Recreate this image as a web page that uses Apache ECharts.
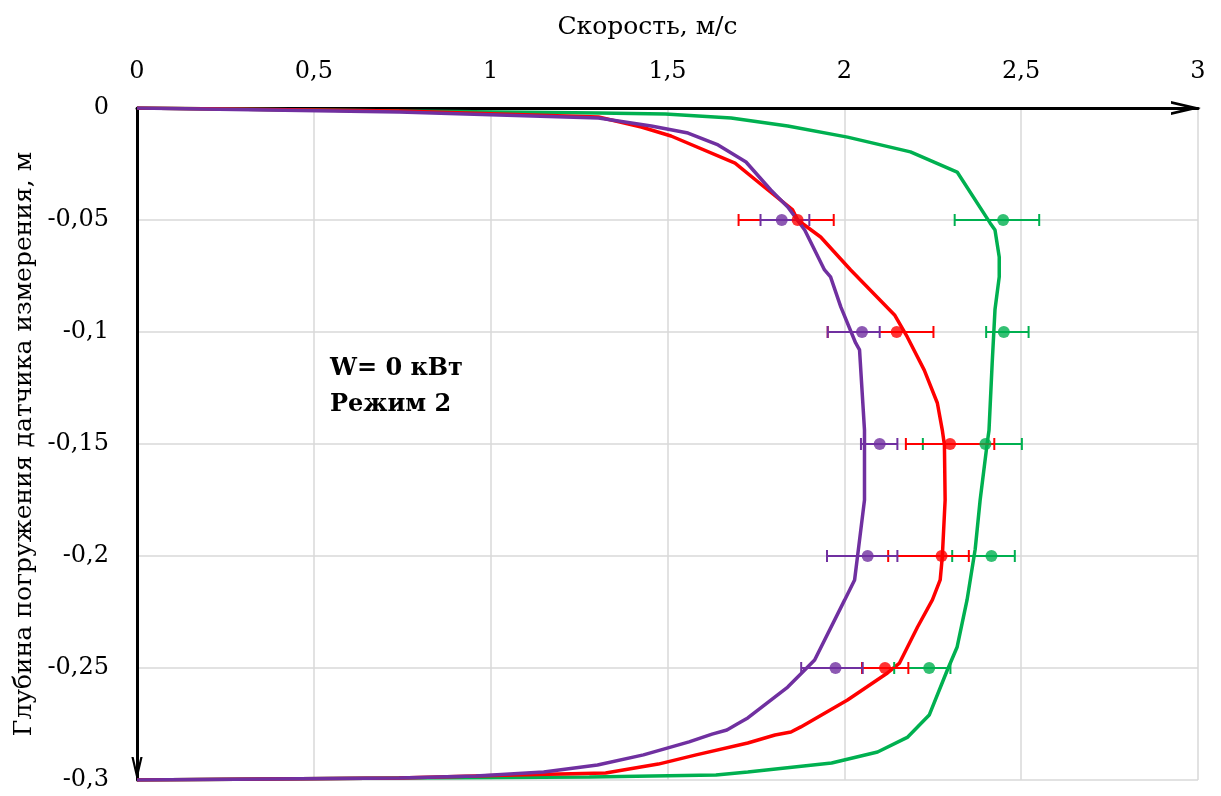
<!DOCTYPE html>
<html>
<head>
<meta charset="utf-8">
<script src="https://cdn.jsdelivr.net/npm/echarts@6/dist/echarts.min.js"></script>
<style>html,body{margin:0;padding:0;background:#fff}#c{width:1221px;height:796px}</style>
</head>
<body>
<div id="c"></div>
<script>
// ---- data ----
const xTitle = 'Скорость, м/с';
const yTitle = 'Глубина погружения датчика измерения, м';
const noteLines = ['W= 0 кВт', 'Режим 2'];

const greenV = [0, 0.741, 1.305, 1.494, 1.680, 1.840, 2.009, 2.187, 2.319, 2.412, 2.426, 2.438, 2.438, 2.426, 2.418, 2.409, 2.404, 2.384, 2.370, 2.347, 2.319, 2.291, 2.240, 2.178, 2.094, 1.964, 1.727, 1.637, 1.279, 0.741, 0];
const greenD = [0, -0.0013, -0.0022, -0.0027, -0.0045, -0.008, -0.013, -0.0196, -0.0286, -0.0513, -0.0545, -0.0665, -0.0754, -0.090, -0.114, -0.144, -0.1496, -0.175, -0.197, -0.2196, -0.2406, -0.251, -0.271, -0.281, -0.2875, -0.2924, -0.2964, -0.2978, -0.2987, -0.2991, -0.3];

const redV = [0, 0.741, 1.305, 1.426, 1.510, 1.691, 1.784, 1.854, 1.868, 1.933, 2.018, 2.142, 2.178, 2.226, 2.263, 2.277, 2.283, 2.285, 2.277, 2.271, 2.249, 2.207, 2.156, 2.122, 2.009, 1.877, 1.849, 1.804, 1.727, 1.581, 1.474, 1.325, 1.065, 0.741, 0];
const redD = [0, -0.0013, -0.004, -0.0085, -0.0125, -0.0246, -0.0366, -0.0455, -0.050, -0.0576, -0.0723, -0.0924, -0.1022, -0.117, -0.1317, -0.1438, -0.1504, -0.175, -0.2004, -0.2107, -0.2196, -0.2317, -0.2478, -0.2522, -0.2643, -0.2763, -0.2786, -0.2799, -0.2835, -0.2888, -0.2929, -0.2969, -0.2978, -0.2991, -0.3];

const purpleV = [0, 0.741, 1.305, 1.454, 1.558, 1.643, 1.722, 1.792, 1.840, 1.888, 1.944, 1.961, 1.990, 2.032, 2.043, 2.057, 2.057, 2.043, 2.029, 2.001, 1.916, 1.888, 1.840, 1.727, 1.702, 1.668, 1.626, 1.561, 1.432, 1.302, 1.150, 0.958, 0.741, 0];
const purpleD = [0, -0.0018, -0.0045, -0.008, -0.0112, -0.0165, -0.0241, -0.0366, -0.0442, -0.0545, -0.0723, -0.0754, -0.0888, -0.1049, -0.108, -0.1438, -0.175, -0.1929, -0.2107, -0.2196, -0.2464, -0.2509, -0.2585, -0.2723, -0.2746, -0.2777, -0.2795, -0.2830, -0.2888, -0.2933, -0.2964, -0.2982, -0.2991, -0.3];

const pointDepths = [-0.05, -0.1, -0.15, -0.2, -0.25];
const greenMean = [2.449, 2.451, 2.399, 2.416, 2.240];
const greenLo   = [2.312, 2.401, 2.222, 2.305, 2.141];
const greenHi   = [2.551, 2.521, 2.502, 2.482, 2.300];
const redMean   = [1.868, 2.148, 2.299, 2.275, 2.115];
const redLo     = [1.701, 1.953, 2.174, 2.124, 2.050];
const redHi     = [1.970, 2.252, 2.424, 2.352, 2.181];
const purpleMean= [1.823, 2.050, 2.100, 2.066, 1.975];
const purpleLo  = [1.763, 1.953, 2.047, 1.951, 1.878];
const purpleHi  = [1.901, 2.100, 2.150, 2.150, 2.052];

const GREEN = '#00b050', RED = '#ff0000', PURPLE = '#7030a0';
const FONT = '"DejaVu Serif", "Liberation Serif", serif';
const CHEVRON = 'path://M7,0 L14,30 L11.2,30 L7,12 L2.8,30 L0,30 Z';

function pairs(xs, ys) { return xs.map((x, i) => [x, ys[i]]); }
function fmt(v) { return String(Math.round(v * 100) / 100).replace('.', ','); }

function lineSeries(xs, ys, color) {
  return { type: 'line', data: pairs(xs, ys), showSymbol: false, symbol: 'none',
    lineStyle: { color: color, width: 3.5 }, z: 3, animation: false };
}
function errSeries(mean, lo, hi, color) {
  return {
    type: 'custom', z: 4, animation: false,
    data: mean.map((m, i) => [m, pointDepths[i], lo[i], hi[i]]),
    encode: { x: 0, y: 1 },
    renderItem: function (params, api) {
      const y = api.value(1);
      const a = api.coord([api.value(2), y]);
      const b = api.coord([api.value(3), y]);
      const h = 6;
      const st = { stroke: color, lineWidth: 2 };
      return { type: 'group', children: [
        { type: 'line', shape: { x1: a[0], y1: a[1], x2: b[0], y2: b[1] }, style: st },
        { type: 'line', shape: { x1: a[0], y1: a[1] - h, x2: a[0], y2: a[1] + h }, style: st },
        { type: 'line', shape: { x1: b[0], y1: b[1] - h, x2: b[0], y2: b[1] + h }, style: st }
      ]};
    }
  };
}
function dotSeries(mean, color) {
  return { type: 'scatter', z: 5, animation: false, symbol: 'circle', symbolSize: 12,
    data: mean.map((m, i) => [m, pointDepths[i]]), itemStyle: { color: color } };
}

const chart = echarts.init(document.getElementById('c'), null, { renderer: 'canvas' });
chart.setOption({
  backgroundColor: '#fff',
  animation: false,
  grid: { left: 137, right: 23, top: 108, bottom: 16, containLabel: false, outerBoundsMode: 'none' },
  xAxis: {
    type: 'value', position: 'top', min: 0, max: 3, interval: 0.5,
    name: xTitle, nameLocation: 'middle', nameGap: 68,
    nameTextStyle: { fontFamily: FONT, fontSize: 25, color: '#000', padding: [0, 40, 0, 0] },
    axisLine: { onZero: false, show: true, lineStyle: { color: '#000', width: 3 }, symbol: ['none', CHEVRON], symbolSize: [14, 30], symbolOffset: [0, -12] },
    axisTick: { show: false },
    axisLabel: { formatter: fmt, fontFamily: FONT, fontSize: 24, color: '#000', margin: 24 },
    splitLine: { show: true, lineStyle: { color: '#d9d9d9', width: 1.5 } }
  },
  yAxis: {
    type: 'value', min: -0.3, max: 0, interval: 0.05,
    name: yTitle, nameLocation: 'middle', nameGap: 100,
    nameTextStyle: { fontFamily: FONT, fontSize: 25, color: '#000' },
    axisLine: { onZero: false, show: true, lineStyle: { color: '#000', width: 3 }, symbol: [CHEVRON, 'none'], symbolSize: [12, 24], symbolOffset: [11, 0] },
    axisTick: { show: false },
    axisLabel: { formatter: fmt, fontFamily: FONT, fontSize: 24, color: '#000', margin: 28 },
    splitLine: { show: true, lineStyle: { color: '#d9d9d9', width: 1.5 } }
  },
  graphic: [{
    type: 'text', left: 330, top: 351,
    style: { text: noteLines.join('\n'), font: 'bold 24px ' + FONT, fill: '#000', lineHeight: 36 }
  }],
  series: [
    lineSeries(greenV, greenD, GREEN),
    lineSeries(redV, redD, RED),
    lineSeries(purpleV, purpleD, PURPLE),
    errSeries(greenMean, greenLo, greenHi, GREEN),
    errSeries(redMean, redLo, redHi, RED),
    errSeries(purpleMean, purpleLo, purpleHi, PURPLE),
    dotSeries(greenMean, GREEN),
    dotSeries(redMean, RED),
    dotSeries(purpleMean, PURPLE)
  ]
});
</script>
</body>
</html>
